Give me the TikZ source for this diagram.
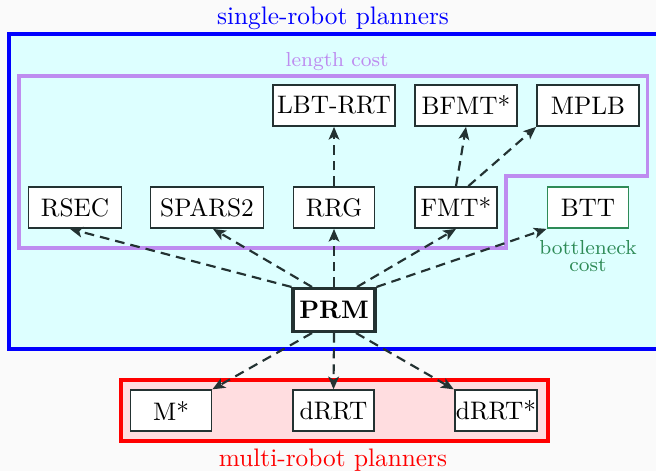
\documentclass[tikz,border=0pt]{standalone}
\usetikzlibrary{arrows.meta,calc}
\definecolor{bgc}{RGB}{250,250,250}
\definecolor{cyanfill}{RGB}{221,255,255}
\definecolor{lenc}{RGB}{190,140,240}
\definecolor{botc}{RGB}{46,139,87}
\definecolor{redfill}{RGB}{255,221,224}
\definecolor{edgec}{RGB}{35,50,50}
\begin{document}
\begin{tikzpicture}[x=0.395pt,y=-0.395pt,
  algo/.style={draw=edgec,line width=0.7pt,fill=white,minimum height=16.2pt,inner xsep=0.5pt,inner ysep=0pt,font=\fontsize{10}{12}\selectfont},
  conn/.style={draw=edgec,line width=0.85pt,dash pattern=on 3.8pt off 2.4pt,-{Stealth[length=5pt,width=4.2pt,inset=1.2pt]}},
  framelabel/.style={font=\fontsize{10}{12}\selectfont},
  smalllabel/.style={font=\fontsize{8}{7}\selectfont,align=center}]
\useasboundingbox (0,0) rectangle (656,471);
\fill[bgc] (0,0) rectangle (656,471);
% single-robot frame
\draw[blue,line width=1.2pt,fill=cyanfill] (9,34) rectangle (672,349);
\node[blue,framelabel] (single) at (333,18) {single-robot planners};
% length cost region
\draw[lenc,line width=1.2pt] (19,76) -- (647,76) -- (647,176) -- (506,176) -- (506,248) -- (19,248) -- cycle;
\node[lenc,smalllabel] (lencost) at (337,62) {length cost};
% multi-robot frame
\draw[red,line width=1.2pt,fill=redfill] (121,380) rectangle (548,441);
\node[red,framelabel] (multi) at (333,460) {multi-robot planners};
% nodes
\node[algo,minimum width=122*0.395pt] (LBT) at (334,105.5) {LBT-RRT};
\node[algo,minimum width=102*0.395pt] (BFMT) at (466,105.5) {BFMT*};
\node[algo,minimum width=102*0.395pt] (MPLB) at (588,105.5) {MPLB};
\node[algo,minimum width=93*0.395pt] (RSEC) at (75,207.5) {RSEC};
\node[algo,minimum width=113*0.395pt] (SPARS) at (207,207.5) {SPARS2};
\node[algo,minimum width=81*0.395pt] (RRG) at (334,207.5) {RRG};
\node[algo,minimum width=82*0.395pt] (FMT) at (456,207.5) {FMT*};
\node[algo,draw=botc,minimum width=81*0.395pt] (BTT) at (588,207.5) {BTT};
\node[botc,smalllabel] (botcost) at (588,256) {bottleneck\\cost};
\node[algo,line width=1.2pt,minimum width=82*0.395pt,minimum height=17pt,font=\fontsize{10}{12}\selectfont\bfseries] (PRM) at (334,310) {PRM};
\node[algo,minimum width=81*0.395pt] (Mstar) at (171,410.7) {M*};
\node[algo,minimum width=81*0.395pt] (dRRT) at (333.5,410.7) {dRRT};
\node[algo,minimum width=81*0.395pt] (dRRTs) at (496,410.7) {dRRT*};
% connectors
\draw[conn] (PRM.north west) -- ($(RSEC.south)+(-5,0)$);
\draw[conn] ($(PRM.north)+(-22,0)$) -- ($(SPARS.south)+(6,0)$);
\draw[conn] (PRM.north) -- (RRG.south);
\draw[conn] ($(PRM.north)+(23,0)$) -- (FMT.south);
\draw[conn] (PRM.north east) -- (BTT.south west);
\draw[conn] (RRG.north) -- (LBT.south);
\draw[conn] (FMT.north) -- (BFMT.south);
\draw[conn] (FMT.60) -- (MPLB.south west);
\draw[conn] ($(PRM.south)+(-22,0)$) -- (Mstar.north east);
\draw[conn] (PRM.south) -- (dRRT.north);
\draw[conn] ($(PRM.south)+(22,0)$) -- (dRRTs.north west);
\end{tikzpicture}
\end{document}
